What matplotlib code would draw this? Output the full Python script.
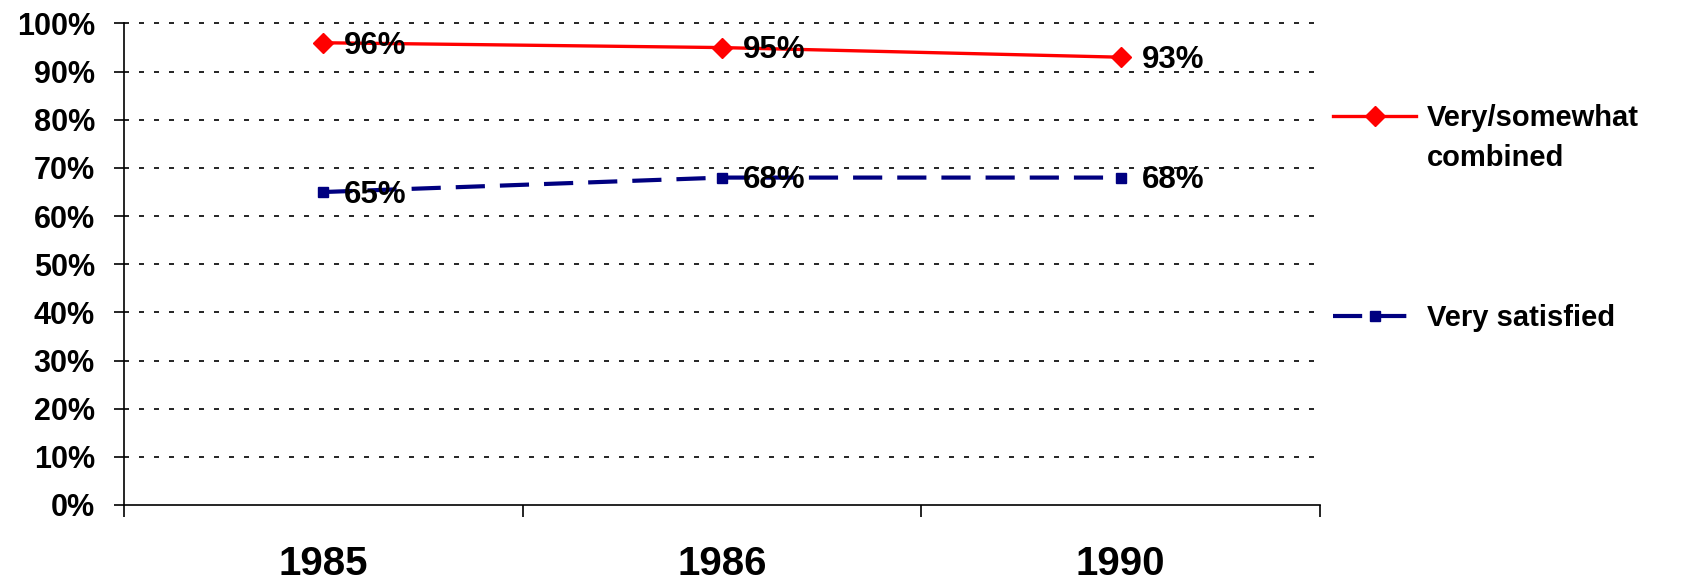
import matplotlib
matplotlib.use("Agg")
import matplotlib.pyplot as plt
from matplotlib.lines import Line2D
from matplotlib.ticker import FixedLocator

years = ["1985", "1986", "1990"]
combined = [96, 95, 93]
very_satisfied = [65, 68, 68]
series_names = ["Very/somewhat\ncombined", "Very satisfied"]
y_ticks = list(range(0, 101, 10))

plt.rcParams["font.family"] = ["Liberation Sans", "DejaVu Sans"]
plt.rcParams["font.weight"] = "bold"

fig = plt.figure(figsize=(16.85, 5.87), dpi=100)
W, H = 1685, 587
ax = fig.add_axes([124 / W, 1 - 505 / H, (1320 - 124) / W, (505 - 23.5) / H])

x = list(range(len(years)))

red_style = dict(color="#ff0000", lw=2.4, marker="D", ms=10, mec="#ff0000")
blue_style = dict(color="#000080", lw=3.0, ls=(0, (7, 3.6)), marker="s", ms=7.5, mec="#000080")

ax.plot(x, combined, zorder=3, **red_style)
ax.plot(x, very_satisfied, zorder=3, **blue_style)

# value labels right of each point
for series in (combined, very_satisfied):
    for xi, v in zip(x, series):
        ax.annotate(f"{v}%", (xi, v), xytext=(15, -2), textcoords="offset points",
                    ha="left", va="center", fontsize=22.5, fontweight="bold")

ax.set_xlim(-0.5, len(years) - 0.5)
ax.set_ylim(0, 100)

ax.set_yticks(y_ticks)
ax.set_yticklabels([f"{t}%" for t in y_ticks], fontsize=22, fontweight="bold")
ax.tick_params(axis="y", direction="out", length=7, width=1.2, pad=14)

ax.set_xticks(x)
ax.set_xticklabels(years, fontsize=29, fontweight="bold")
ax.xaxis.set_minor_locator(FixedLocator([-0.5, 0.5, 1.5, 2.5]))
ax.tick_params(axis="x", which="major", length=0, pad=29)
ax.tick_params(axis="x", which="minor", direction="out", length=8.5, width=1.2)

for t in y_ticks[1:]:
    ax.axhline(t, color="black", lw=1.2, ls=(0, (3, 6)), zorder=1, clip_on=False)

for side in ["top", "right"]:
    ax.spines[side].set_visible(False)
for side in ["left", "bottom"]:
    ax.spines[side].set_linewidth(1.2)

# legend drawn beside the plot area
legend_rows = [(116, red_style, series_names[0]), (316, blue_style, series_names[1])]
for ypix, style, name in legend_rows:
    yf = 1 - ypix / H
    handle = Line2D([1333 / W, 1416 / W], [yf, yf], transform=fig.transFigure,
                    color=style["color"], lw=style["lw"], ls=style.get("ls", "-"))
    fig.add_artist(handle)
    mk = Line2D([1375 / W], [yf], transform=fig.transFigure, color=style["color"],
                marker=style["marker"], ms=style["ms"], mec=style["mec"], ls="none")
    fig.add_artist(mk)
    fig.text(1427 / W, 1 - (ypix - 12) / H, name, fontsize=21, fontweight="bold",
             ha="left", va="top", linespacing=1.55)

fig.savefig("out.png", dpi=100)
